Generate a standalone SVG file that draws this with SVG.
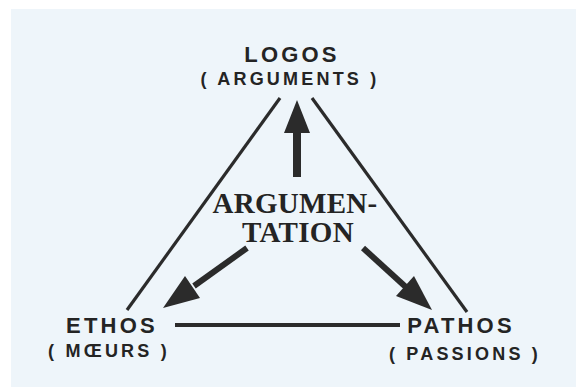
<svg xmlns="http://www.w3.org/2000/svg" width="576" height="387" viewBox="0 0 576 387">
<style>
.sans{font-family:"Liberation Sans",Arial,sans-serif;font-weight:bold;fill:#242424;text-anchor:middle}
.big{font-size:22px;letter-spacing:3.2px}
.small{font-size:18px;letter-spacing:3.2px}
.serif{font-family:"Liberation Serif","Times New Roman",serif;font-weight:bold;font-size:29px;fill:#242424;text-anchor:middle;letter-spacing:0.3px}
.edge{stroke:#2b2b2b;stroke-width:3.2;fill:none;stroke-linecap:butt}
.head{fill:#2b2b2b}
</style>
<rect x="0" y="0" width="576" height="387" fill="#ffffff"/>
<rect x="11" y="9" width="565" height="378" fill="#eef5fa"/>
<g id="connectors">
<line class="edge" x1="280" y1="98" x2="127" y2="310"/>
<line class="edge" x1="312" y1="98" x2="467" y2="312"/>
<line class="edge" x1="175" y1="325" x2="400" y2="325" style="stroke-width:4"/>
<line class="edge" x1="297" y1="177" x2="297" y2="130" style="stroke-width:8"/>
<polygon class="head" points="297,100 310,133 284,133"/>
<line class="edge" x1="247" y1="248" x2="194" y2="286" style="stroke-width:6"/>
<polygon class="head" points="163,308 200,298 185,276"/>
<line class="edge" x1="363" y1="248" x2="408" y2="289" style="stroke-width:6"/>
<polygon class="head" points="432,310 396,296 414,276"/>
</g>
<g id="logos">
<text class="sans big" x="292" y="62">LOGOS</text>
<text class="sans small" x="290" y="85">( ARGUMENTS )</text>
</g>
<g id="argumentation">
<text class="serif" x="295" y="213">ARGUMEN-</text>
<text class="serif" x="298" y="242">TATION</text>
</g>
<g id="ethos">
<text class="sans big" x="112" y="333">ETHOS</text>
<text class="sans small" x="109" y="357">( MŒURS )</text>
</g>
<g id="pathos">
<text class="sans big" x="461" y="333">PATHOS</text>
<text class="sans small" x="465" y="360">( PASSIONS )</text>
</g>
</svg>
